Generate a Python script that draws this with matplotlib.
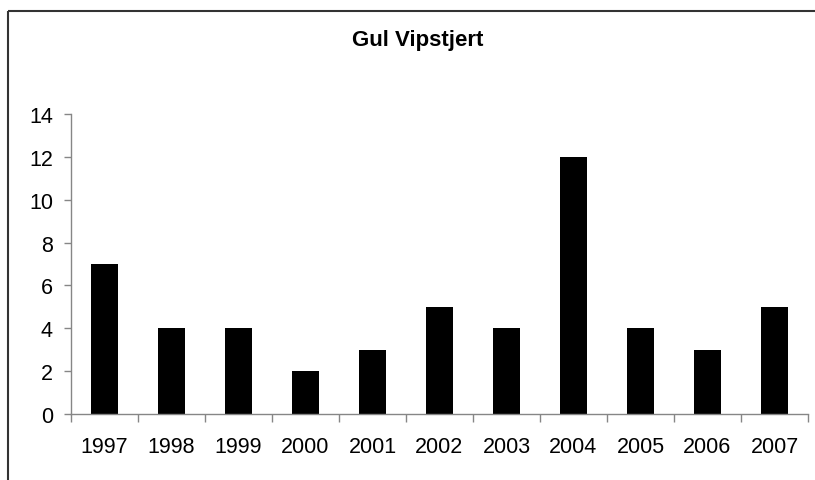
import matplotlib
matplotlib.use("Agg")
import matplotlib.pyplot as plt
from matplotlib.lines import Line2D

years = ["1997", "1998", "1999", "2000", "2001", "2002", "2003", "2004", "2005", "2006", "2007"]
counts = [7, 4, 4, 2, 3, 5, 4, 12, 4, 3, 5]
title = "Gul Vipstjert"

W, H = 815, 481
plt.rcParams['font.family'] = ['Liberation Sans', 'DejaVu Sans']
fig = plt.figure(figsize=(W / 100, H / 100), dpi=100)

# outer chart frame (top and left edges visible)
fy = 1 - 12 / H
fx = 8 / W
fig.lines.append(Line2D([fx, 1.05], [fy, fy], transform=fig.transFigure, color='#333333',
                        linewidth=1.5, solid_capstyle='butt'))
fig.lines.append(Line2D([fx, fx], [-0.05, fy], transform=fig.transFigure, color='#333333',
                        linewidth=1.5, solid_capstyle='butt'))

left, right = 71 / W, 808 / W
bottom, top = 1 - 415 / H, 1 - 115 / H
ax = fig.add_axes([left, bottom, right - left, top - bottom])

x = list(range(len(years)))
ax.bar(x, counts, width=0.41, color='black')
ax.set_xlim(-0.5, len(years) - 0.5)
ax.set_ylim(0, 14)
ax.set_yticks(range(0, 15, 2))
ax.set_xticks(x)
ax.set_xticklabels(years)
ax.set_xticks([i - 0.5 for i in range(len(years) + 1)], minor=True)
ax.tick_params(axis='x', which='major', length=0, pad=16, labelsize=15.5)
ax.tick_params(axis='x', which='minor', length=6, color='#868686', width=1)
ax.tick_params(axis='y', length=5, color='#868686', width=1, labelsize=15.5, pad=8)

for s in ['top', 'right']:
    ax.spines[s].set_visible(False)
for s in ['left', 'bottom']:
    ax.spines[s].set_color('#868686')
    ax.spines[s].set_linewidth(1)

fig.text(418 / W, 1 - 41 / H, title, ha='center', va='center', fontsize=16, fontweight='bold')

fig.savefig("out.png", dpi=100)
